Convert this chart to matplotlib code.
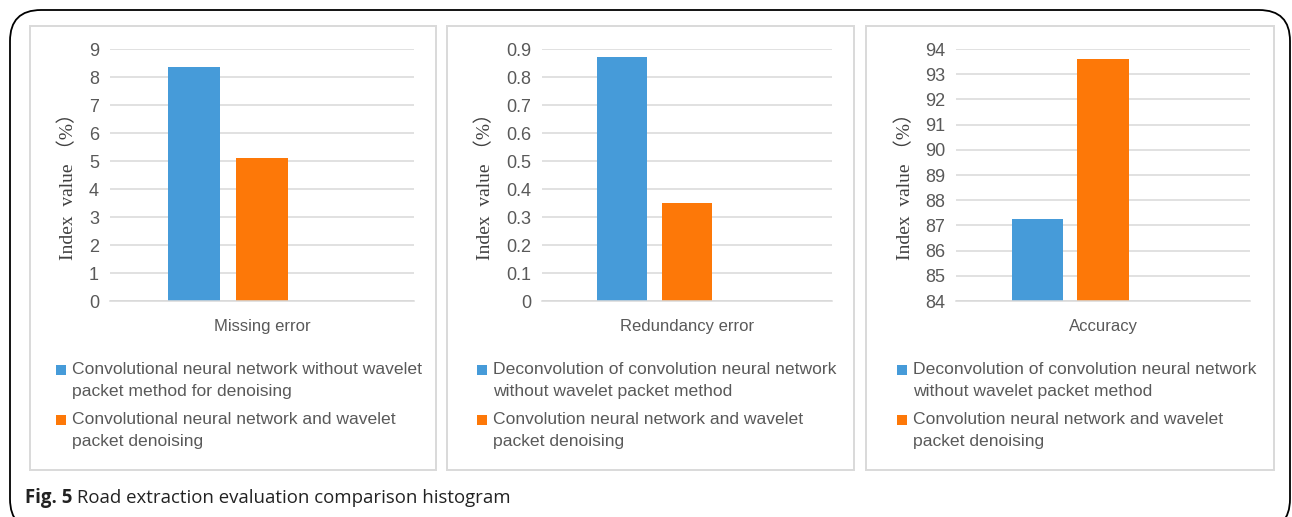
import matplotlib.pyplot as plt
from matplotlib.patches import Rectangle, FancyBboxPatch
from matplotlib.ticker import FuncFormatter
from matplotlib import font_manager

# --- data ---
categories = ["Missing error", "Redundancy error", "Accuracy"]
without_wavelet = [8.35, 0.87, 87.25]
with_wavelet = [5.12, 0.35, 93.62]
y_limits = [(0, 9), (0, 0.9), (84, 94)]
y_steps = [1, 0.1, 1]

legend_labels = [
    ["Convolutional neural network without wavelet\npacket method for denoising",
     "Convolutional neural network and wavelet\npacket denoising"],
    ["Deconvolution of convolution neural network\nwithout wavelet packet method",
     "Convolution neural network and wavelet\npacket denoising"],
    ["Deconvolution of convolution neural network\nwithout wavelet packet method",
     "Convolution neural network and wavelet\npacket denoising"],
]
ylabel = "Index  value （%）"
caption_bold = "Fig. 5"
caption_text = " Road extraction evaluation comparison histogram"

BLUE = "#469BD9"
ORANGE = "#FD7808"
GRID = "#D9D9D9"
TICK_COLOR = "#595959"

W, H = 1292, 517

installed = {f.name for f in font_manager.fontManager.ttflist}
narrow = "Liberation Sans Narrow" if "Liberation Sans Narrow" in installed else "Liberation Sans"


def fx(x):
    return x / W


def fy(y):
    return 1 - y / H


fig = plt.figure(figsize=(W / 100, H / 100), dpi=100)

# rounded outer frame (bottom edge runs off the canvas)
fig.add_artist(FancyBboxPatch((fx(10), fy(530)), fx(1280), 520 / H,
                              boxstyle="round,pad=0,rounding_size=0.024",
                              transform=fig.transFigure, fill=False,
                              edgecolor="black", linewidth=1.3,
                              mutation_aspect=W / H))

# per-panel geometry in pixels
panels = [(30, 436), (447, 854), (866, 1274)]
axes_x = [(110, 414), (542, 832), (956, 1250)]
ylabel_x = [68, 485, 905]
legend_x = [56, 477, 897]

for i, cat in enumerate(categories):
    px0, px1 = panels[i]
    fig.add_artist(Rectangle((fx(px0), fy(470)), fx(px1 - px0), 444 / H,
                             transform=fig.transFigure, fill=False,
                             edgecolor=GRID, linewidth=1.4))

    ax0, ax1 = axes_x[i]
    ax = fig.add_axes([fx(ax0), fy(301), fx(ax1 - ax0), 252 / H])
    lo, hi = y_limits[i]
    step = 0.2237
    width = 0.174
    ax.bar([-step], [without_wavelet[i] - lo], bottom=lo, width=width, color=BLUE)
    ax.bar([0], [with_wavelet[i] - lo], bottom=lo, width=width, color=ORANGE)
    ax.set_xlim(-0.5, 0.5)
    ax.set_ylim(lo, hi)

    n = int(round((hi - lo) / y_steps[i]))
    ticks = [lo + k * y_steps[i] for k in range(n + 1)]
    ax.set_yticks(ticks)
    if y_steps[i] < 1:
        ax.yaxis.set_major_formatter(FuncFormatter(lambda v, p: "0" if abs(v) < 1e-9 else f"{v:.1f}"))
    ax.set_xticks([0])
    ax.set_xticklabels([cat], fontfamily=narrow, fontsize=12, color=TICK_COLOR)
    ax.tick_params(axis="x", length=0, pad=13)
    ax.tick_params(axis="y", length=0, pad=8, labelsize=13, labelcolor=TICK_COLOR)
    for lab in ax.get_yticklabels():
        lab.set_fontfamily("Liberation Sans")
    ax.grid(axis="y", color=GRID, linewidth=1.1)
    ax.set_axisbelow(True)
    for side in ["top", "right", "left"]:
        ax.spines[side].set_visible(False)
    ax.spines["bottom"].set_color(GRID)
    ax.spines["bottom"].set_linewidth(1.1)

    fig.text(fx(ylabel_x[i]), fy(182), ylabel, rotation=90, ha="center", va="center",
             fontsize=14, family=["Liberation Serif", "Noto Sans CJK SC"], color="#404040")

    # legend
    lx = legend_x[i]
    for j, (lab, col) in enumerate(zip(legend_labels[i], [BLUE, ORANGE])):
        ytop = 371 + j * 50
        fig.add_artist(Rectangle((fx(lx), fy(ytop + 4)), fx(10), 10 / H,
                                 transform=fig.transFigure, color=col, linewidth=0))
        fig.text(fx(lx + 16), fy(ytop - 9), lab, ha="left", va="top",
                 fontsize=12.6, family=narrow, color=TICK_COLOR, linespacing=1.62)

# caption
t = fig.text(fx(25), fy(498), caption_bold, ha="left", va="center",
             fontsize=13.4, fontweight="bold", family="Open Sans", color="#222222")
fig.canvas.draw()
bb = t.get_window_extent()
fig.text(bb.x1 / W, fy(498), caption_text, ha="left", va="center",
         fontsize=13.4, family="Open Sans", color="#222222")

fig.savefig("out.png", dpi=100)
